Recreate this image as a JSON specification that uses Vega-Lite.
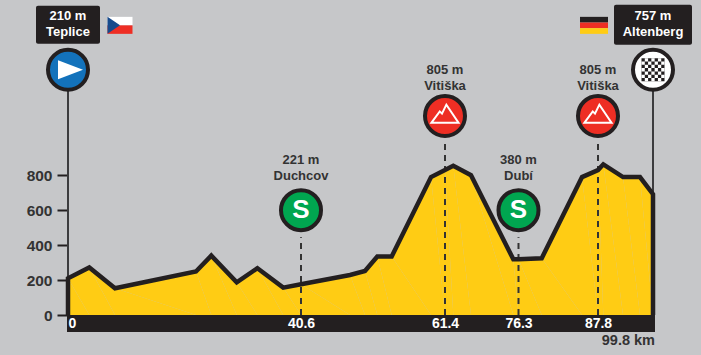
{"$schema":"https://vega.github.io/schema/vega-lite/v6.json","width":588,"height":332,"autosize":"none","padding":{"left":67,"top":0,"right":46,"bottom":23},"background":"#c6c7c9","config":{"view":{"stroke":null},"text":{"font":"Liberation Sans","fontWeight":"bold"}},
"datasets":{
"profile":[{"i":0,"km":0,"m":0},{"i":1,"km":0,"m":210},{"i":2,"km":3.71,"m":272},{"i":3,"km":8.19,"m":153},{"i":4,"km":22.3,"m":249},{"i":5,"km":24.97,"m":340},{"i":6,"km":29.4,"m":187},{"i":7,"km":33.0,"m":268},{"i":8,"km":37.5,"m":157},{"i":9,"km":40.6,"m":176},{"i":10,"km":47.68,"m":229},{"i":11,"km":49.84,"m":252},{"i":12,"km":51.62,"m":335},{"i":13,"km":53.7,"m":335},{"i":14,"km":59.38,"m":789},{"i":15,"km":61.4,"m":829},{"i":16,"km":63.08,"m":854},{"i":17,"km":66.67,"m":800},{"i":18,"km":75.25,"m":319},{"i":19,"km":76.3,"m":319},{"i":20,"km":79.66,"m":325},{"i":21,"km":85.49,"m":789},{"i":22,"km":87.8,"m":829},{"i":23,"km":88.96,"m":862},{"i":24,"km":93.26,"m":789},{"i":25,"km":96.96,"m":789},{"i":26,"km":99.8,"m":691},{"i":27,"km":99.8,"m":0}],
"points":[{"km":0,"elev":"210 m","name":"Teplice","kind":"start"},{"km":40.6,"elev":"221 m","name":"Duchcov","kind":"sprint"},{"km":61.4,"elev":"805 m","name":"Vitiška","kind":"climb"},{"km":76.3,"elev":"380 m","name":"Dubí","kind":"sprint"},{"km":87.8,"elev":"805 m","name":"Vitiška","kind":"climb"},{"km":99.8,"elev":"757 m","name":"Altenberg","kind":"finish"}],
"band":[{"label":"99.8 km"}]
},
"layer":[
{"data":{"name":"band"},"mark":{"type":"rect","color":"#231f20"},"encoding":{"x":{"datum":-0.2,"type":"quantitative","scale":{"domain":[-0.2,0,40.6,61.4,76.3,87.8,99.8,100.2],"range":[0,1,234,378,451.5,531,586,588],"nice":false,"zero":false},"axis":{"values":[0,40.6,61.4,76.3,87.8],"title":null,"ticks":false,"domain":false,"grid":false,"labelColor":"#ffffff","labelFont":"Liberation Sans","labelFontWeight":"bold","labelFontSize":14,"labelPadding":-16,"labelFlush":true,"labelOverlap":false,"zindex":1,"format":".1~f"}},"x2":{"datum":100.2},"y":{"datum":0,"type":"quantitative","scale":{"domain":[-97,1802],"nice":false,"zero":false},"axis":{"values":[0,200,400,600,800],"title":null,"grid":false,"domain":false,"tickSize":10,"tickWidth":2,"tickColor":"#231f20","labelColor":"#333333","labelFont":"Liberation Sans","labelFontWeight":"bold","labelFontSize":15.5,"labelPadding":5,"format":"d"}},"y2":{"datum":-97}}},
{"data":{"name":"profile"},"mark":{"type":"area","color":"#ffcc14"},"encoding":{"x":{"field":"km","type":"quantitative"},"y":{"field":"m","type":"quantitative"},"order":{"field":"i"}}},
{"data":{"name":"points"},"transform":[{"filter":"datum.kind=='sprint'"}],"mark":{"type":"rule","color":"#333333","strokeWidth":2,"strokeDash":[6,5]},"encoding":{"x":{"field":"km","type":"quantitative"},"y":{"datum":0},"y2":{"datum":445}}},
{"data":{"name":"points"},"transform":[{"filter":"datum.kind=='climb'"}],"mark":{"type":"rule","color":"#333333","strokeWidth":2,"strokeDash":[6,5]},"encoding":{"x":{"field":"km","type":"quantitative"},"y":{"datum":0},"y2":{"datum":1001}}},
{"data":{"name":"points"},"transform":[{"filter":"datum.kind=='start'||datum.kind=='finish'"}],"mark":{"type":"rule","color":"#3c3c3e","strokeWidth":2},"encoding":{"x":{"field":"km","type":"quantitative"},"y":{"datum":0},"y2":{"datum":1300}}},
{"data":{"name":"profile"},"mark":{"type":"line","color":"#231f20","strokeWidth":4.5,"strokeJoin":"miter"},"encoding":{"x":{"field":"km","type":"quantitative"},"y":{"field":"m","type":"quantitative"},"order":{"field":"i"}}},
{"data":{"name":"points"},"transform":[{"filter":"datum.kind=='start'"}],"mark":{"type":"rect","color":"#231f20","width":64,"height":38,"cornerRadius":2},"encoding":{"x":{"field":"km","type":"quantitative"},"y":{"datum":1660}}},
{"data":{"name":"points"},"transform":[{"filter":"datum.kind=='finish'"}],"mark":{"type":"rect","color":"#231f20","width":78,"height":40,"cornerRadius":2},"encoding":{"x":{"field":"km","type":"quantitative"},"y":{"datum":1660}}},
{"data":{"name":"points"},"transform":[{"filter":"datum.kind=='start'"}],"mark":{"type":"point","shape":"circle","filled":true,"fill":"#1372bb","stroke":"#231f20","strokeWidth":4,"size":1600,"opacity":1},"encoding":{"x":{"field":"km","type":"quantitative"},"y":{"datum":1403}}},
{"data":{"name":"points"},"transform":[{"filter":"datum.kind=='start'"}],"mark":{"type":"point","shape":"M-0.8,-0.76L1.2,0L-0.8,0.76Z","filled":true,"fill":"#ffffff","strokeWidth":0,"size":625,"opacity":1},"encoding":{"x":{"field":"km","type":"quantitative"},"y":{"datum":1403}}},
{"data":{"name":"points"},"transform":[{"filter":"datum.kind=='finish'"}],"mark":{"type":"point","shape":"circle","filled":true,"fill":"#ffffff","stroke":"#231f20","strokeWidth":4,"size":1600,"opacity":1},"encoding":{"x":{"field":"km","type":"quantitative"},"y":{"datum":1403}}},
{"data":{"name":"points"},"transform":[{"filter":"datum.kind=='finish'"}],"mark":{"type":"point","shape":"square","filled":true,"fill":"#231f20","strokeWidth":0,"size":529,"opacity":1},"encoding":{"x":{"field":"km","type":"quantitative"},"y":{"datum":1403}}},
{"data":{"name":"points"},"transform":[{"filter":"datum.kind=='finish'"}],"mark":{"type":"point","filled":true,"fill":"#ffffff","strokeWidth":0,"size":529,"opacity":1,"shape":"M-0.714,-1h0.286v0.286h-0.286zM-0.143,-1h0.286v0.286h-0.286zM0.429,-1h0.286v0.286h-0.286zM-1,-0.714h0.286v0.286h-0.286zM-0.429,-0.714h0.286v0.286h-0.286zM0.143,-0.714h0.286v0.286h-0.286zM0.714,-0.714h0.286v0.286h-0.286zM-0.714,-0.429h0.286v0.286h-0.286zM-0.143,-0.429h0.286v0.286h-0.286zM0.429,-0.429h0.286v0.286h-0.286zM-1,-0.143h0.286v0.286h-0.286zM-0.429,-0.143h0.286v0.286h-0.286zM0.143,-0.143h0.286v0.286h-0.286zM0.714,-0.143h0.286v0.286h-0.286zM-0.714,0.143h0.286v0.286h-0.286zM-0.143,0.143h0.286v0.286h-0.286zM0.429,0.143h0.286v0.286h-0.286zM-1,0.429h0.286v0.286h-0.286zM-0.429,0.429h0.286v0.286h-0.286zM0.143,0.429h0.286v0.286h-0.286zM0.714,0.429h0.286v0.286h-0.286zM-0.714,0.714h0.286v0.286h-0.286zM-0.143,0.714h0.286v0.286h-0.286zM0.429,0.714h0.286v0.286h-0.286z"},"encoding":{"x":{"field":"km","type":"quantitative"},"y":{"datum":1403}}},
{"data":{"name":"points"},"transform":[{"filter":"datum.kind=='sprint'"}],"mark":{"type":"point","shape":"circle","filled":true,"fill":"#00a650","stroke":"#231f20","strokeWidth":4,"size":1600,"opacity":1},"encoding":{"x":{"field":"km","type":"quantitative"},"y":{"datum":600}}},
{"data":{"name":"points"},"transform":[{"filter":"datum.kind=='sprint'"}],"mark":{"type":"text","text":"S","fontSize":26,"color":"#ffffff","baseline":"middle","align":"center"},"encoding":{"x":{"field":"km","type":"quantitative"},"y":{"datum":600}}},
{"data":{"name":"points"},"transform":[{"filter":"datum.kind=='climb'"}],"mark":{"type":"point","shape":"circle","filled":true,"fill":"#ee2e24","stroke":"#231f20","strokeWidth":4,"size":1600,"opacity":1},"encoding":{"x":{"field":"km","type":"quantitative"},"y":{"datum":1139}}},
{"data":{"name":"points"},"transform":[{"filter":"datum.kind=='climb'"}],"mark":{"type":"point","shape":"M-0.9,0.45L-0.35,-0.3L-0.2,-0.15L0.09,-0.75L0.9,0.45Z","filled":false,"stroke":"#ffffff","strokeWidth":2,"size":900,"opacity":1},"encoding":{"x":{"field":"km","type":"quantitative"},"y":{"datum":1139}}},
{"data":{"name":"points"},"transform":[{"filter":"datum.kind=='sprint'"}],"mark":{"type":"text","fontSize":13,"color":"#333333","baseline":"middle"},"encoding":{"x":{"field":"km","type":"quantitative"},"y":{"datum":884},"text":{"field":"elev"}}},
{"data":{"name":"points"},"transform":[{"filter":"datum.kind=='sprint'"}],"mark":{"type":"text","fontSize":13,"color":"#333333","baseline":"middle"},"encoding":{"x":{"field":"km","type":"quantitative"},"y":{"datum":795},"text":{"field":"name"}}},
{"data":{"name":"points"},"transform":[{"filter":"datum.kind=='climb'"}],"mark":{"type":"text","fontSize":13,"color":"#333333","baseline":"middle"},"encoding":{"x":{"field":"km","type":"quantitative"},"y":{"datum":1402},"text":{"field":"elev"}}},
{"data":{"name":"points"},"transform":[{"filter":"datum.kind=='climb'"}],"mark":{"type":"text","fontSize":13,"color":"#333333","baseline":"middle"},"encoding":{"x":{"field":"km","type":"quantitative"},"y":{"datum":1310},"text":{"field":"name"}}},
{"data":{"name":"points"},"transform":[{"filter":"datum.kind=='start'||datum.kind=='finish'"}],"mark":{"type":"text","fontSize":13,"color":"#ffffff","baseline":"middle"},"encoding":{"x":{"field":"km","type":"quantitative"},"y":{"datum":1710},"text":{"field":"elev"}}},
{"data":{"name":"points"},"transform":[{"filter":"datum.kind=='start'||datum.kind=='finish'"}],"mark":{"type":"text","fontSize":13,"color":"#ffffff","baseline":"middle"},"encoding":{"x":{"field":"km","type":"quantitative"},"y":{"datum":1618},"text":{"field":"name"}}},
{"data":{"name":"points"},"transform":[{"filter":"datum.kind=='start'"}],"mark":{"type":"point","shape":"M-1,-0.68H1V0H-1Z","filled":true,"fill":"#ffffff","strokeWidth":0,"size":625,"opacity":1,"xOffset":52},"encoding":{"x":{"field":"km","type":"quantitative"},"y":{"datum":1657}}},
{"data":{"name":"points"},"transform":[{"filter":"datum.kind=='start'"}],"mark":{"type":"point","shape":"M-1,0H1V0.68H-1Z","filled":true,"fill":"#ee2e24","strokeWidth":0,"size":625,"opacity":1,"xOffset":52},"encoding":{"x":{"field":"km","type":"quantitative"},"y":{"datum":1657}}},
{"data":{"name":"points"},"transform":[{"filter":"datum.kind=='start'"}],"mark":{"type":"point","shape":"M-1,-0.68L0,0L-1,0.68Z","filled":true,"fill":"#174a8c","strokeWidth":0,"size":625,"opacity":1,"xOffset":52},"encoding":{"x":{"field":"km","type":"quantitative"},"y":{"datum":1657}}},
{"data":{"name":"points"},"transform":[{"filter":"datum.kind=='finish'"}],"mark":{"type":"point","shape":"M-1,-0.607H1V-0.2H-1Z","filled":true,"fill":"#231f20","strokeWidth":0,"size":784,"opacity":1,"xOffset":-59},"encoding":{"x":{"field":"km","type":"quantitative"},"y":{"datum":1657}}},
{"data":{"name":"points"},"transform":[{"filter":"datum.kind=='finish'"}],"mark":{"type":"point","shape":"M-1,-0.2H1V0.2H-1Z","filled":true,"fill":"#ee2e24","strokeWidth":0,"size":784,"opacity":1,"xOffset":-59},"encoding":{"x":{"field":"km","type":"quantitative"},"y":{"datum":1657}}},
{"data":{"name":"points"},"transform":[{"filter":"datum.kind=='finish'"}],"mark":{"type":"point","shape":"M-1,0.2H1V0.607H-1Z","filled":true,"fill":"#ffcc14","strokeWidth":0,"size":784,"opacity":1,"xOffset":-59},"encoding":{"x":{"field":"km","type":"quantitative"},"y":{"datum":1657}}},
{"data":{"name":"band"},"mark":{"type":"text","fontSize":14.5,"color":"#333333","align":"right","baseline":"middle"},"encoding":{"x":{"datum":100.2},"y":{"datum":-149},"text":{"field":"label"}}}
]}
